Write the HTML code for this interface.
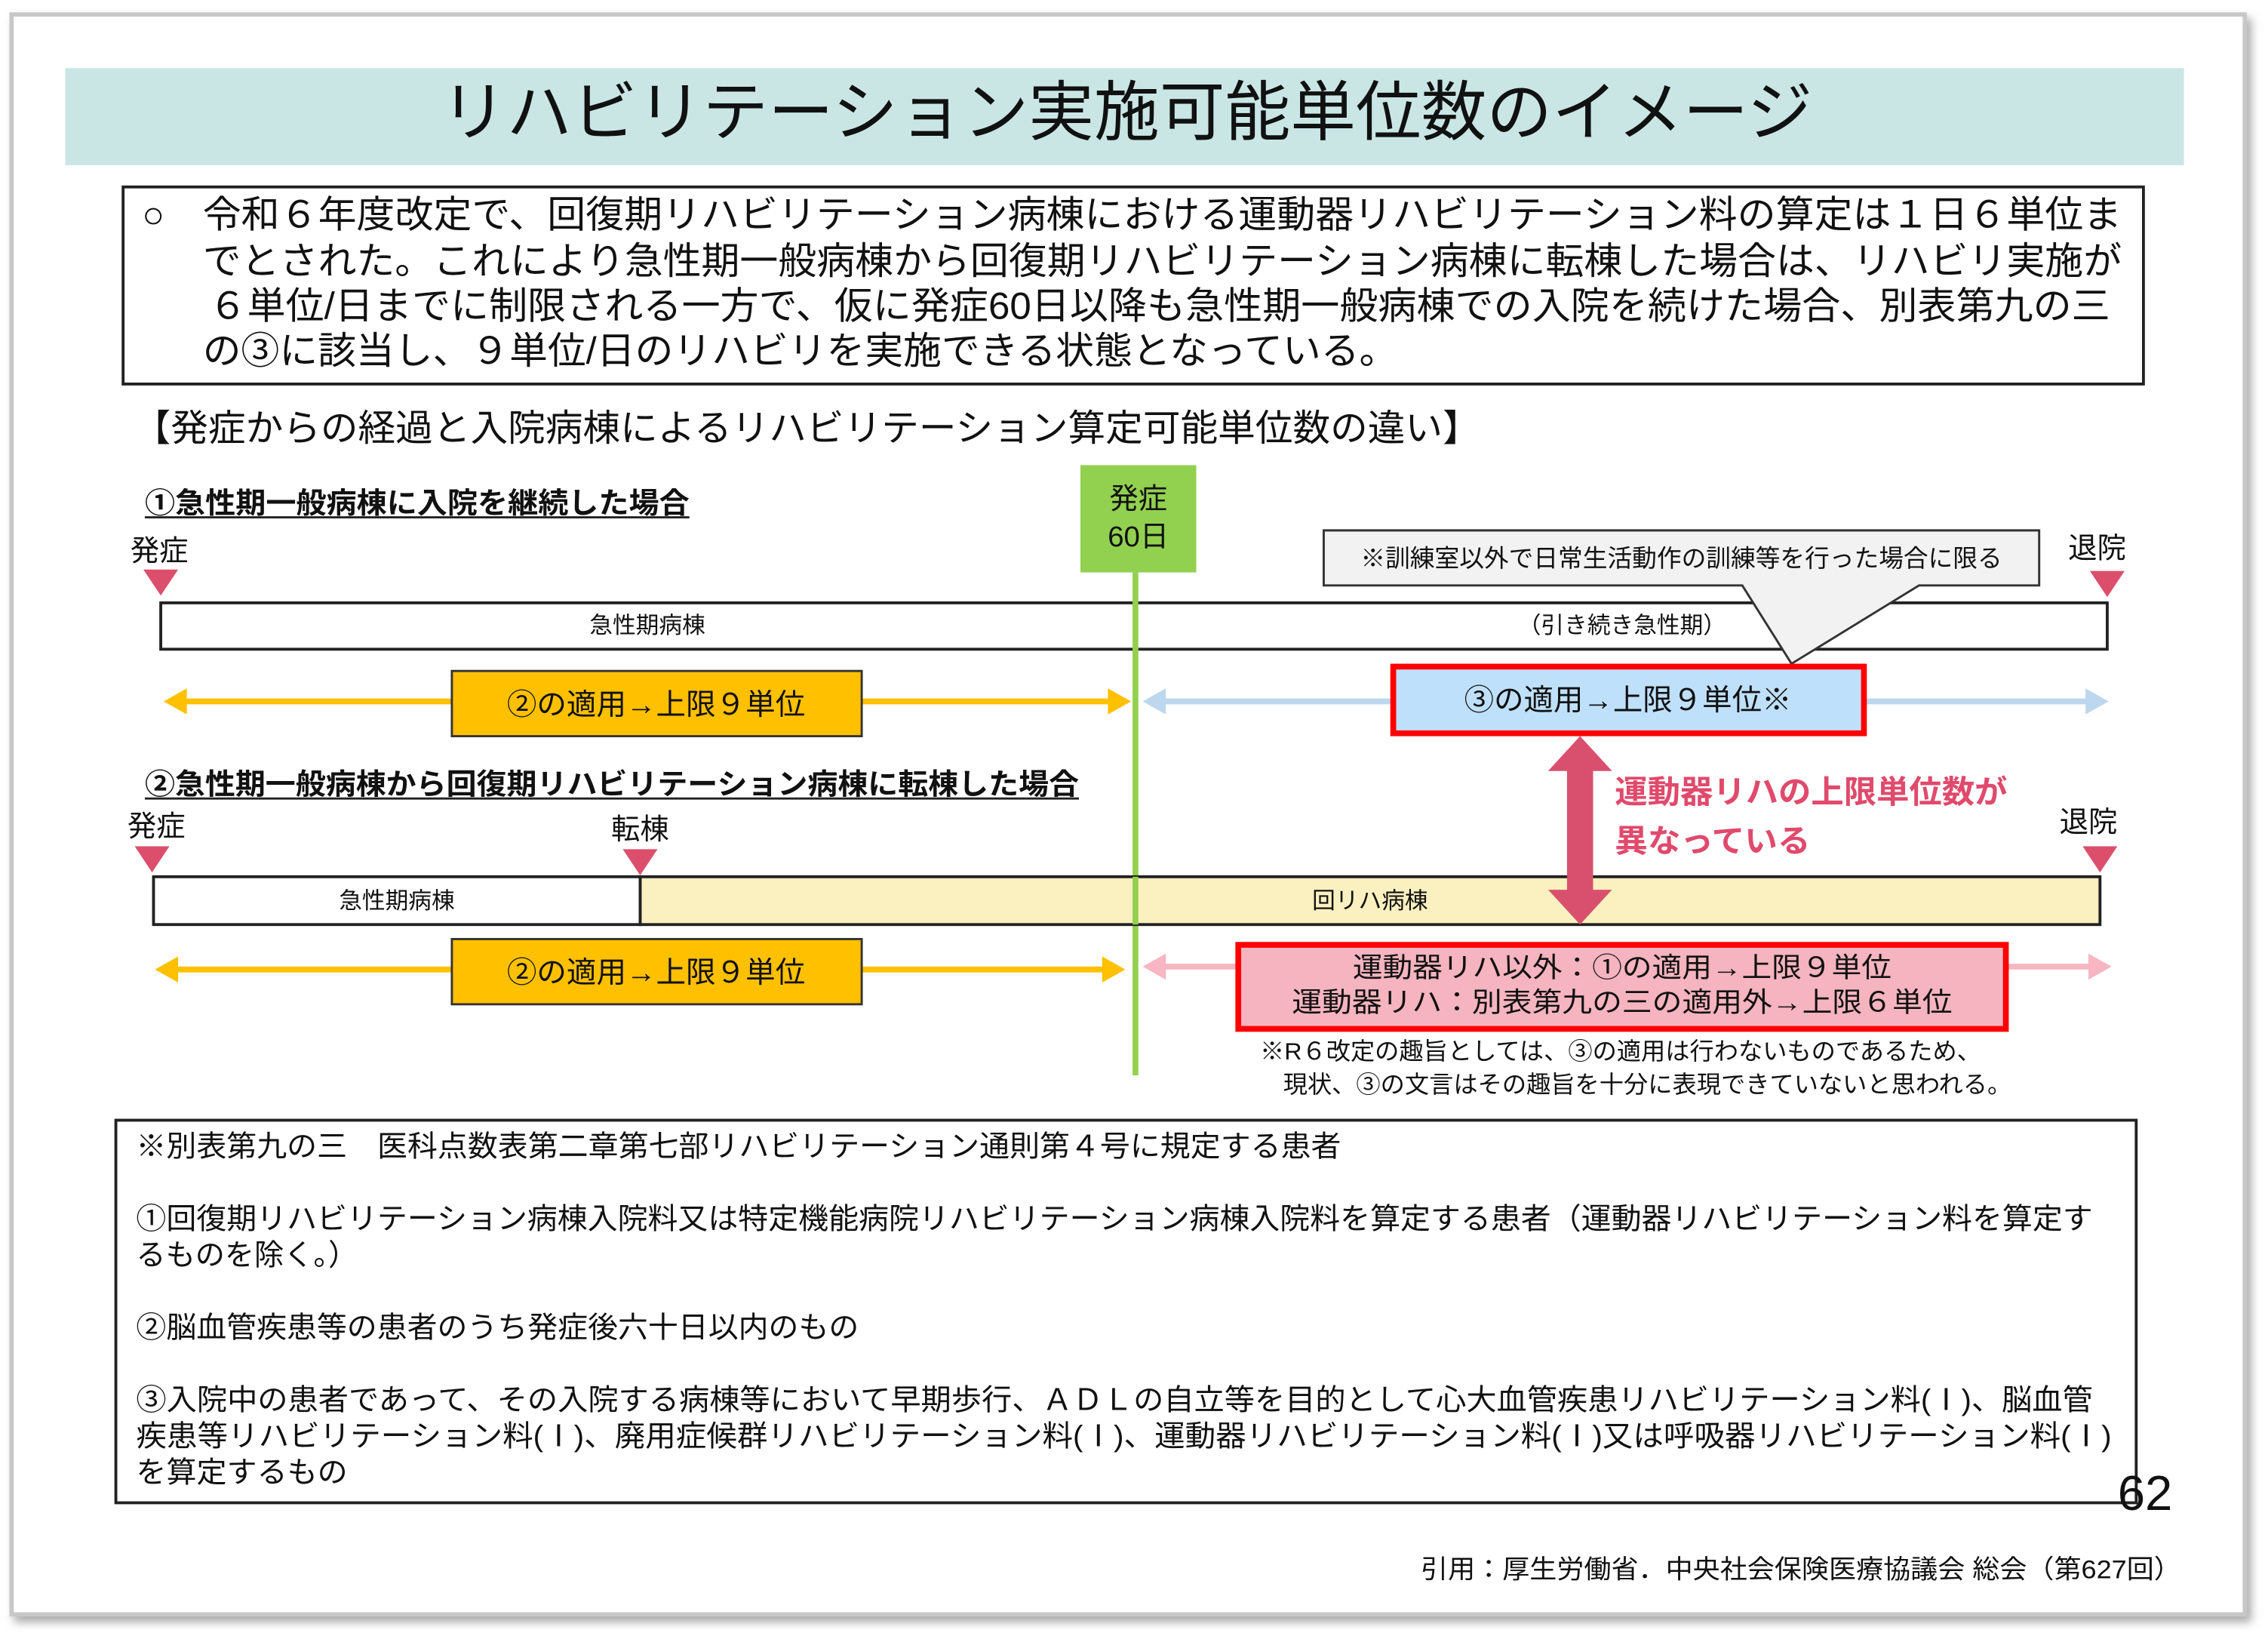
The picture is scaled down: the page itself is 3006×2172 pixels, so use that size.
<!DOCTYPE html>
<html><head><meta charset="utf-8"><style>
html,body{margin:0;padding:0;background:#fff;width:3006px;height:2172px;overflow:hidden}
svg{display:block}
text{font-family:"Liberation Sans","Noto Sans CJK JP",sans-serif;fill:#111}
</style></head><body>
<svg width="3006" height="2172" viewBox="0 0 1566 1131" preserveAspectRatio="none" xmlns="http://www.w3.org/2000/svg">
<defs>
<filter id="sh" x="-5%" y="-5%" width="110%" height="110%"><feDropShadow dx="3" dy="4" stdDeviation="3" flood-color="#888" flood-opacity="0.7"/></filter>
</defs>
<rect x="8" y="10" width="1542" height="1104" fill="#fff" stroke="#c8c8c8" stroke-width="3" filter="url(#sh)"/>
<!-- title -->
<rect x="45" y="47" width="1463" height="67" fill="#c9e6e5"/>
<text x="778" y="93" font-size="45" text-anchor="middle" textLength="947" lengthAdjust="spacingAndGlyphs">リハビリテーション実施可能単位数のイメージ</text>
<!-- intro box -->
<rect x="85" y="129" width="1395" height="136" fill="#fff" stroke="#222" stroke-width="2"/>
<text x="98" y="157" font-size="26">○</text>
<text x="140" y="157" font-size="26" textLength="1325" lengthAdjust="spacingAndGlyphs">令和６年度改定で、回復期リハビリテーション病棟における運動器リハビリテーション料の算定は１日６単位ま</text>
<text x="140" y="189" font-size="26" textLength="1325" lengthAdjust="spacingAndGlyphs">でとされた。これにより急性期一般病棟から回復期リハビリテーション病棟に転棟した場合は、リハビリ実施が</text>
<text x="144" y="220" font-size="26" textLength="1313" lengthAdjust="spacingAndGlyphs">６単位/日までに制限される一方で、仮に発症60日以降も急性期一般病棟での入院を続けた場合、別表第九の三</text>
<text x="140" y="251" font-size="26" textLength="825" lengthAdjust="spacingAndGlyphs">の③に該当し、９単位/日のリハビリを実施できる状態となっている。</text>
<text x="92" y="304" font-size="25.5" textLength="930" lengthAdjust="spacingAndGlyphs">【発症からの経過と入院病棟によるリハビリテーション算定可能単位数の違い】</text>
<!-- section 1 -->
<text x="100" y="354" font-size="20" font-weight="bold" textLength="376" lengthAdjust="spacingAndGlyphs">①急性期一般病棟に入院を継続した場合</text>
<line x1="100" y1="357" x2="476" y2="357" stroke="#222" stroke-width="1.5"/>
<rect x="746" y="321" width="80" height="74" fill="#92d050"/>
<text x="786" y="351" font-size="20" text-anchor="middle">発症</text>
<text x="786" y="377" font-size="20" text-anchor="middle">60日</text>
<text x="90" y="387" font-size="20">発症</text>
<polygon points="99,393 123,393 111,411" fill="#dc4f6c"/>
<text x="1428" y="385" font-size="20">退院</text>
<polygon points="1443,394 1467,394 1455,412" fill="#dc4f6c"/>
<rect x="111" y="416" width="1344" height="32" fill="#fff" stroke="#222" stroke-width="2"/>
<text x="447" y="437" font-size="16" text-anchor="middle">急性期病棟</text>
<text x="1120" y="437" font-size="16" text-anchor="middle">（引き続き急性期）</text>
<!-- callout -->
<polygon points="914,366 1408,366 1408,404 1325,404 1237,458 1203,404 914,404" fill="#f2f2f2" stroke="#333" stroke-width="1.5"/>
<text x="1161" y="391" font-size="17" text-anchor="middle" textLength="443" lengthAdjust="spacingAndGlyphs">※訓練室以外で日常生活動作の訓練等を行った場合に限る</text>
<!-- green line -->
<line x1="784" y1="395" x2="784" y2="742" stroke="#92d050" stroke-width="4"/>
<!-- arrows row 1 -->
<line x1="125" y1="484" x2="768" y2="484" stroke="#ffc000" stroke-width="4"/>
<polygon points="113,484 129,475 129,493" fill="#ffc000"/>
<polygon points="781,484 765,475 765,493" fill="#ffc000"/>
<rect x="312" y="463" width="283" height="45" fill="#ffc000" stroke="#333" stroke-width="1.5"/>
<text x="453" y="493" font-size="20.5" text-anchor="middle" textLength="206" lengthAdjust="spacingAndGlyphs">②の適用→上限９単位</text>
<line x1="800" y1="484" x2="1442" y2="484" stroke="#bdd7ee" stroke-width="4"/>
<polygon points="789,484 805,475 805,493" fill="#bdd7ee"/>
<polygon points="1456,484 1440,475 1440,493" fill="#bdd7ee"/>
<rect x="962" y="460" width="325" height="46" fill="#bfe0fb" stroke="#ff0000" stroke-width="4"/>
<text x="1124" y="490" font-size="20.5" text-anchor="middle" textLength="226" lengthAdjust="spacingAndGlyphs">③の適用→上限９単位※</text>
<!-- double arrow -->
<polygon points="1091,508 1113,532 1100,532 1100,614 1113,614 1091,638 1069,614 1082,614 1082,532 1069,532" fill="#d9506e"/>
<text x="1115" y="554" font-size="22" font-weight="bold" style="fill:#e04a6c" textLength="271" lengthAdjust="spacingAndGlyphs">運動器リハの上限単位数が</text>
<text x="1115" y="588" font-size="22" font-weight="bold" style="fill:#e04a6c" textLength="135" lengthAdjust="spacingAndGlyphs">異なっている</text>
<!-- section 2 -->
<text x="100" y="548" font-size="20" font-weight="bold" textLength="645" lengthAdjust="spacingAndGlyphs">②急性期一般病棟から回復期リハビリテーション病棟に転棟した場合</text>
<line x1="100" y1="551" x2="745" y2="551" stroke="#222" stroke-width="1.5"/>
<text x="88" y="577" font-size="20">発症</text>
<polygon points="93,584 117,584 105,602" fill="#dc4f6c"/>
<text x="422" y="579" font-size="20">転棟</text>
<polygon points="430,586 454,586 442,604" fill="#dc4f6c"/>
<text x="1422" y="574" font-size="20">退院</text>
<polygon points="1438,584 1462,584 1450,602" fill="#dc4f6c"/>
<rect x="442" y="605" width="1008" height="33" fill="#fbf0bf" stroke="#222" stroke-width="2"/>
<rect x="106" y="605" width="336" height="33" fill="#fff" stroke="#222" stroke-width="2"/>
<line x1="784" y1="605" x2="784" y2="638" stroke="#92d050" stroke-width="4"/>
<polygon points="1091,508 1113,532 1100,532 1100,614 1113,614 1091,638 1069,614 1082,614 1082,532 1069,532" fill="#d9506e"/>
<text x="274" y="627" font-size="16" text-anchor="middle">急性期病棟</text>
<text x="946" y="627" font-size="16" text-anchor="middle">回リハ病棟</text>
<!-- arrows row 2 -->
<line x1="119" y1="669" x2="764" y2="669" stroke="#ffc000" stroke-width="4"/>
<polygon points="107,669 123,660 123,678" fill="#ffc000"/>
<polygon points="777,669 761,660 761,678" fill="#ffc000"/>
<rect x="312" y="648" width="283" height="45" fill="#ffc000" stroke="#333" stroke-width="1.5"/>
<text x="453" y="678" font-size="20.5" text-anchor="middle" textLength="206" lengthAdjust="spacingAndGlyphs">②の適用→上限９単位</text>
<line x1="800" y1="667" x2="1444" y2="667" stroke="#f7b6c2" stroke-width="4"/>
<polygon points="789,667 805,658 805,676" fill="#f7b6c2"/>
<polygon points="1458,667 1442,658 1442,676" fill="#f7b6c2"/>
<rect x="855" y="652" width="530" height="58" fill="#f5b4bf" stroke="#ff0000" stroke-width="4"/>
<text x="1120" y="674" font-size="19" text-anchor="middle" textLength="372" lengthAdjust="spacingAndGlyphs">運動器リハ以外：①の適用→上限９単位</text>
<text x="1120" y="698" font-size="19" text-anchor="middle" textLength="456" lengthAdjust="spacingAndGlyphs">運動器リハ：別表第九の三の適用外→上限６単位</text>
<text x="870" y="731" font-size="16.5" textLength="498" lengthAdjust="spacingAndGlyphs">※R６改定の趣旨としては、③の適用は行わないものであるため、</text>
<text x="886" y="754" font-size="16.5" textLength="503" lengthAdjust="spacingAndGlyphs">現状、③の文言はその趣旨を十分に表現できていないと思われる。</text>
<!-- bottom box -->
<rect x="80" y="773" width="1395" height="264" fill="#fff" stroke="#222" stroke-width="2"/>
<text x="94" y="798" font-size="20.5" textLength="832" lengthAdjust="spacingAndGlyphs">※別表第九の三　医科点数表第二章第七部リハビリテーション通則第４号に規定する患者</text>
<text x="94" y="848" font-size="20.5" textLength="1351" lengthAdjust="spacingAndGlyphs">①回復期リハビリテーション病棟入院料又は特定機能病院リハビリテーション病棟入院料を算定する患者（運動器リハビリテーション料を算定す</text>
<text x="94" y="873" font-size="20.5" textLength="153" lengthAdjust="spacingAndGlyphs">るものを除く。）</text>
<text x="94" y="923" font-size="20.5" textLength="499" lengthAdjust="spacingAndGlyphs">②脳血管疾患等の患者のうち発症後六十日以内のもの</text>
<text x="94" y="973" font-size="20.5" textLength="1351" lengthAdjust="spacingAndGlyphs">③入院中の患者であって、その入院する病棟等において早期歩行、ＡＤＬの自立等を目的として心大血管疾患リハビリテーション料(Ⅰ)、脳血管</text>
<text x="94" y="998" font-size="20.5" textLength="1364" lengthAdjust="spacingAndGlyphs">疾患等リハビリテーション料(Ⅰ)、廃用症候群リハビリテーション料(Ⅰ)、運動器リハビリテーション料(Ⅰ)又は呼吸器リハビリテーション料(Ⅰ)</text>
<text x="94" y="1023" font-size="20.5" textLength="146" lengthAdjust="spacingAndGlyphs">を算定するもの</text>
<text x="1500" y="1042" font-size="34" text-anchor="end">62</text>
<text x="1506" y="1089" font-size="18" text-anchor="end" textLength="525" lengthAdjust="spacingAndGlyphs">引用：厚生労働省．中央社会保険医療協議会 総会（第627回）</text>
</svg>
</body></html>
